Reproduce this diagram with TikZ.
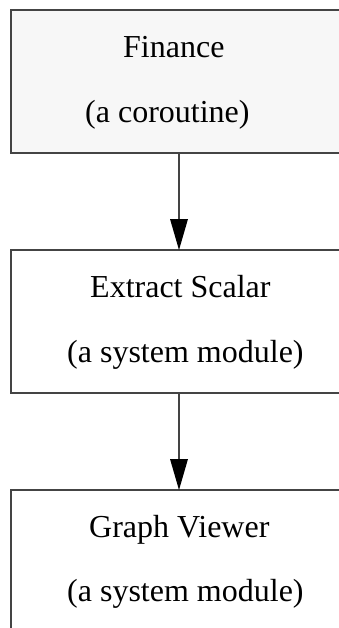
\documentclass[tikz,border=0pt]{standalone}
\usepackage{fontspec}
\setmainfont{Liberation Serif}
\usetikzlibrary{arrows.meta}
\definecolor{edge}{HTML}{444444}
\definecolor{boxfill}{HTML}{F7F7F7}
\tikzset{
  modbox/.style={draw=edge, line width=2pt, rectangle, minimum width=336pt, minimum height=143pt, inner sep=0pt, outer sep=0pt},
  lbl/.style={anchor=base west, inner sep=0pt, font=\fontsize{32}{38}\selectfont},
  flow/.style={draw=edge, line width=2pt, -{Triangle[length=31pt,width=18pt,fill=black,line width=0pt]}}
}
\begin{document}
\begin{tikzpicture}[x=1pt,y=-1pt]
\useasboundingbox (0,0) rectangle (339,628);
\fill[white] (0,0) rectangle (339,628);
\clip (0,0) rectangle (339,628);
\node[modbox, fill=boxfill] (b1) at (179,81.5) {};
\node[modbox, fill=white] (b2) at (179,321.5) {};
\node[modbox, fill=white] (b3) at (179,561.5) {};
\node[lbl] (t1a) at (123,58) {Finance};
\node[lbl] (t1b) at (85,123) {(a coroutine)};
\node[lbl] (t2a) at (90,297) {Extract Scalar};
\node[lbl] (t2b) at (67,362) {(a system module)};
\node[lbl] (t3a) at (89,537) {Graph Viewer};
\node[lbl] (t3b) at (67,601) {(a system module)};
\draw[flow] (b1.south) -- (b2.north);
\draw[flow] (b2.south) -- (b3.north);
\end{tikzpicture}
\end{document}
